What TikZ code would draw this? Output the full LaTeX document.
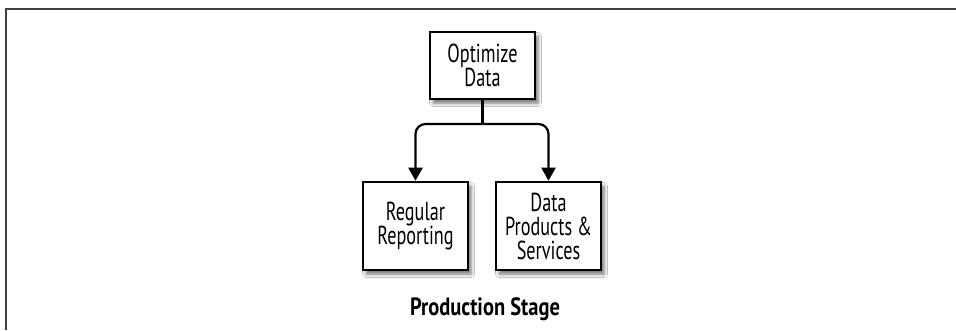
\documentclass[tikz,border=0pt]{standalone}
\usepackage{fontspec}
\setmainfont{PT Sans}[FakeStretch=0.82]
\newfontfamily\boxfont{PT Sans}[FakeStretch=0.70]
\usetikzlibrary{arrows.meta,shadows.blur}
\begin{document}
\begin{tikzpicture}[x=1pt,y=-1pt,
  stagebox/.style={draw=black, line width=2.6pt, fill=white, minimum width=105pt,
    align=center, inner sep=2pt, font=\boxfont\fontsize{26}{24}\selectfont,
    blur shadow={shadow xshift=3pt, shadow yshift=-4pt, shadow blur radius=3.5pt, shadow opacity=55}},
  link/.style={line width=2.2pt, draw=black},
  arr/.style={link, rounded corners=10pt, -{Triangle[length=13pt,width=14pt]}},
  frameline/.style={draw=black!75, line width=1.6pt}]
\useasboundingbox (0,0) rectangle (956,330);
\fill[white] (0,0) rectangle (956,330);
\coordinate (fa) at (6,330);
\coordinate (fb) at (6,9);
\coordinate (fc) at (956,9);
\draw[frameline] (fa) -- (fb) -- (fc);
\node[stagebox, minimum height=67pt] (opt) at (482.5,65.5) {Optimize\\Data};
\node[stagebox, minimum height=88pt] (rr) at (415.5,226) {Regular\\Reporting};
\node[stagebox, minimum height=88pt] (dp) at (548.5,226) {Data\\Products \&\\Services};
\coordinate (j) at (482.5,124);
\draw[link] (opt.south) -- (j);
\draw[arr] (j) -| (rr.north);
\draw[arr] (j) -| (dp.north);
\node[font=\bfseries\fontsize{25}{28}\selectfont] (title) at (485,309) {Production Stage};
\end{tikzpicture}
\end{document}
